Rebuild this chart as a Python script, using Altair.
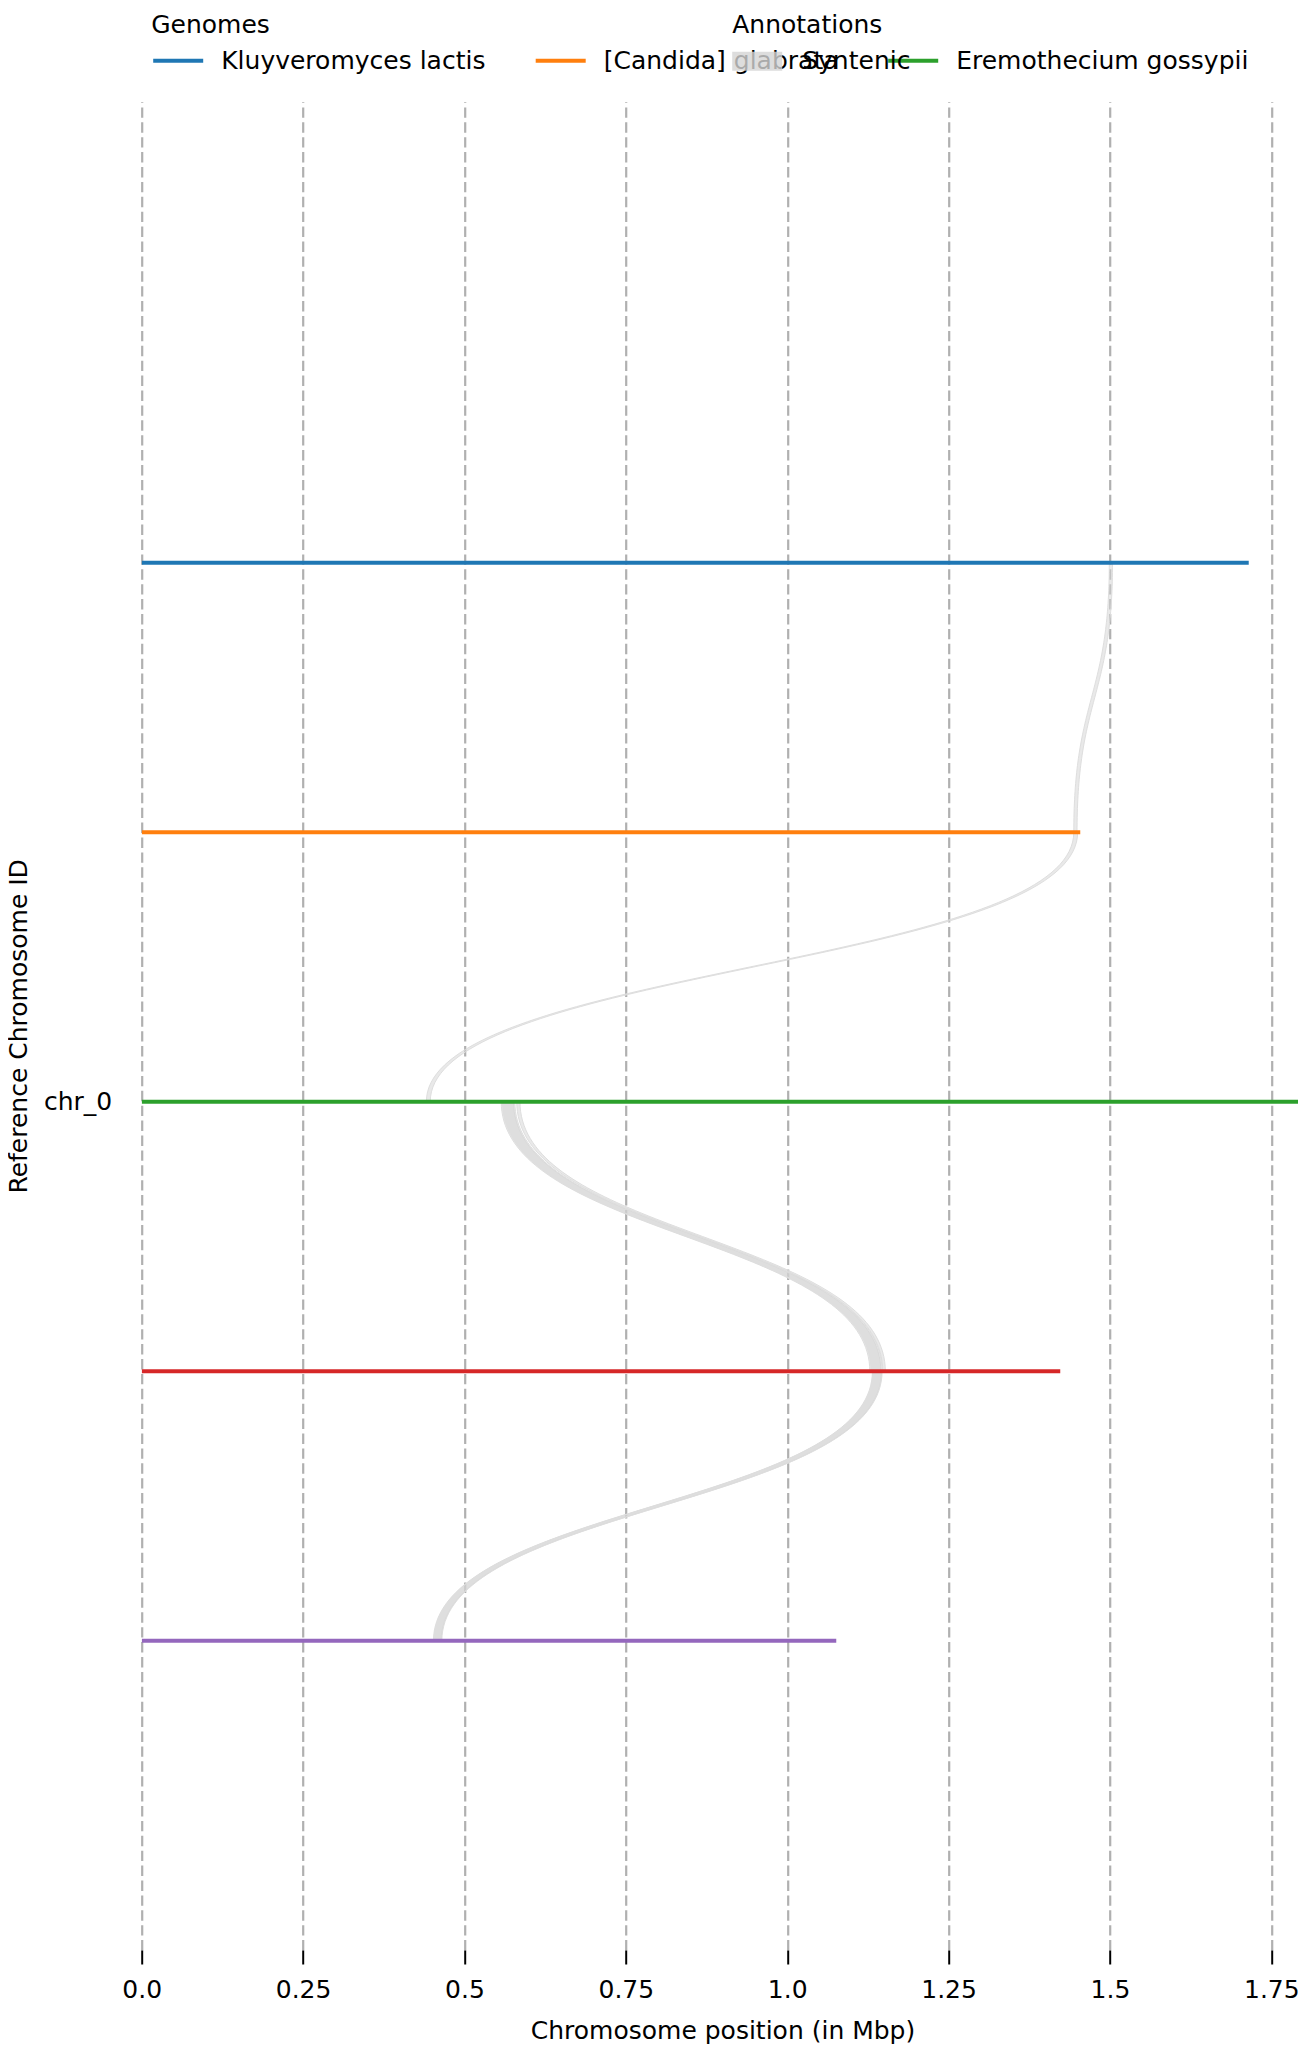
import json
import altair as alt
import pandas as pd

# ---------------- data ----------------
GENOMES = ["Kluyveromyces lactis", "[Candida] glabrata", "Eremothecium gossypii",
           "Lachancea thermotolerans", "Zygosaccharomyces rouxii"]
GENOME_ROWS = [-2, -1, 0, 1, 2]            # row offset relative to reference chr_0
GENOME_LENGTHS = [1.715, 1.454, 1.85, 1.423, 1.076]   # Mbp
COLORS = ["#1f77b4", "#ff7f0e", "#2ca02c", "#d62728", "#9467bd"]

REF_CHROMS = ["chr_0"]
REF_ROWS = [0]

X_TICKS = [0, 0.25, 0.5, 0.75, 1.0, 1.25, 1.5, 1.75]
X_TICK_LABELS = ["0.0", "0.25", "0.5", "0.75", "1.0", "1.25", "1.5", "1.75"]

ANNOTATIONS = ["Syntenic"]
SYN_BLOCK = ["b1", "b2", "b3", "b4", "b5", "b6", "b7"]
SYN_TOP_GENOME = [0, 1, 2, 2, 2, 3, 3]
SYN_BOTTOM_GENOME = [1, 2, 3, 3, 3, 4, 4]
SYN_TOP_START = [1.499, 1.444, 0.557, 0.559, 0.581, 1.132, 1.133]
SYN_TOP_END = [1.504, 1.450, 0.576, 0.578, 0.586, 1.146, 1.147]
SYN_BOTTOM_START = [1.444, 0.441, 1.128, 1.130, 1.148, 0.452, 0.453]
SYN_BOTTOM_END = [1.449, 0.447, 1.145, 1.147, 1.152, 0.464, 0.465]

# ---------------- tables ----------------
genomes_df = pd.DataFrame({
    "genome": GENOMES,
    "row": GENOME_ROWS,
    "start": [0.0] * len(GENOMES),
    "length": GENOME_LENGTHS,
})

syn_df = pd.DataFrame({
    "block": SYN_BLOCK,
    "annotation": [ANNOTATIONS[0]] * len(SYN_BLOCK),
    "top_row": [GENOME_ROWS[i] for i in SYN_TOP_GENOME],
    "bottom_row": [GENOME_ROWS[i] for i in SYN_BOTTOM_GENOME],
    "top_start": SYN_TOP_START,
    "top_end": SYN_TOP_END,
    "bottom_start": SYN_BOTTOM_START,
    "bottom_end": SYN_BOTTOM_END,
})

# ---------------- layout ----------------
FONT = "DejaVu Sans"
FS = 25
PLOT_W = 1156.3
PLOT_H = 1848.3
PX_PER_MBP = 645.5

x_scale = alt.Scale(domain=[0, PLOT_W / PX_PER_MBP], nice=False, zero=False)
y_scale = alt.Scale(domain=[-3.710, 3.147], nice=False, zero=False, reverse=True)

x_label_expr = f"{json.dumps(X_TICK_LABELS)}[indexof({json.dumps(X_TICKS)}, datum.value)]"
y_label_expr = f"{json.dumps(REF_CHROMS)}[indexof({json.dumps(REF_ROWS)}, datum.value)]"

x_axis = alt.Axis(
    title="Chromosome position (in Mbp)", values=X_TICKS, labelExpr=x_label_expr,
    domain=False, grid=True, gridColor="#b0b0b0", gridDash=[10.4, 4.5], gridWidth=2.2,
    ticks=True, tickColor="black", tickSize=14, tickWidth=2,
    labelFont=FONT, labelFontSize=FS, labelColor="black", labelBaseline="alphabetic",
    labelPadding=33, labelFlush=False, labelOverlap=False,
    titleFont=FONT, titleFontSize=FS, titleFontWeight="normal", titleColor="black",
    titleBaseline="alphabetic", titleY=88.3, titleX=580.8, titleAlign="center",
)
y_axis = alt.Axis(
    title="Reference Chromosome ID", values=REF_ROWS, labelExpr=y_label_expr,
    domain=False, grid=False, ticks=False, tickSize=0,
    labelFont=FONT, labelFontSize=FS, labelColor="black", labelPadding=30,
    labelBaseline="middle",
    titleFont=FONT, titleFontSize=FS, titleFontWeight="normal", titleColor="black",
    titleBaseline="alphabetic", titleX=-115.2,
)

legend_common = dict(
    orient="none", direction="horizontal", padding=0,
    titleFont=FONT, titleFontSize=FS, titleFontWeight="normal", titleColor="black",
    titleAnchor="start", titleLimit=2000,
    labelFont=FONT, labelFontSize=FS, labelColor="black", labelLimit=2000,
    symbolSize=2500,
)

ribbons = alt.Chart(syn_df).transform_calculate(
    k="sequence(0, 81)"
).transform_flatten(["k"]).transform_calculate(
    t="datum.k / 80"
).transform_calculate(
    u="3*datum.t*datum.t - 2*datum.t*datum.t*datum.t"
).transform_calculate(
    s="1.5*datum.t*(1-datum.t) + datum.t*datum.t*datum.t"
).transform_calculate(
    yy="datum.top_row + (datum.bottom_row - datum.top_row)*datum.s"
).transform_calculate(
    xl="datum.top_start + (datum.bottom_start - datum.top_start)*datum.u"
).transform_calculate(
    xr="datum.top_end + (datum.bottom_end - datum.top_end)*datum.u"
).mark_area(
    orient="horizontal", clip=True, fillOpacity=0.5,
    stroke="#dedede", strokeWidth=1, strokeOpacity=1,
).encode(
    y=alt.Y("yy:Q", scale=y_scale, axis=y_axis),
    x=alt.X("xl:Q", scale=x_scale, axis=x_axis, stack=None),
    x2="xr:Q",
    detail="block:N",
    fill=alt.Fill(
        "annotation:N",
        scale=alt.Scale(domain=ANNOTATIONS, range=["#d4d4d4"]),
        legend=alt.Legend(
            title="Annotations", legendX=590.5, legendY=-88.85,
            symbolType="M-1,-0.38H1V0.38H-1Z", symbolStrokeWidth=0,
            symbolOpacity=0.8, labelOffset=20, zindex=2, titlePadding=-1.5,
            **legend_common,
        ),
    ),
)

lines = alt.Chart(genomes_df).mark_rule(strokeWidth=4, clip=True).encode(
    y=alt.Y("row:Q", scale=y_scale, axis=y_axis),
    x=alt.X("start:Q", scale=x_scale, axis=x_axis),
    x2="length:Q",
    stroke=alt.Stroke(
        "genome:N",
        scale=alt.Scale(domain=GENOMES, range=COLORS),
        legend=alt.Legend(
            title="Genomes", legendX=9.5, legendY=-88.85,
            symbolType="stroke", symbolStrokeWidth=4,
            labelOffset=16, columnPadding=41.5, zindex=1, titlePadding=-4,
            **legend_common,
        ),
    ),
)

chart = alt.layer(ribbons, lines).properties(
    width=PLOT_W, height=PLOT_H,
    autosize=alt.AutoSizeParams(type="none"),
    padding={"left": 133.7, "top": 93.7, "right": 0, "bottom": 96},
    background="white",
).configure_view(stroke=None)

chart.save("out.html", embed_options={"renderer": "svg", "actions": False})
